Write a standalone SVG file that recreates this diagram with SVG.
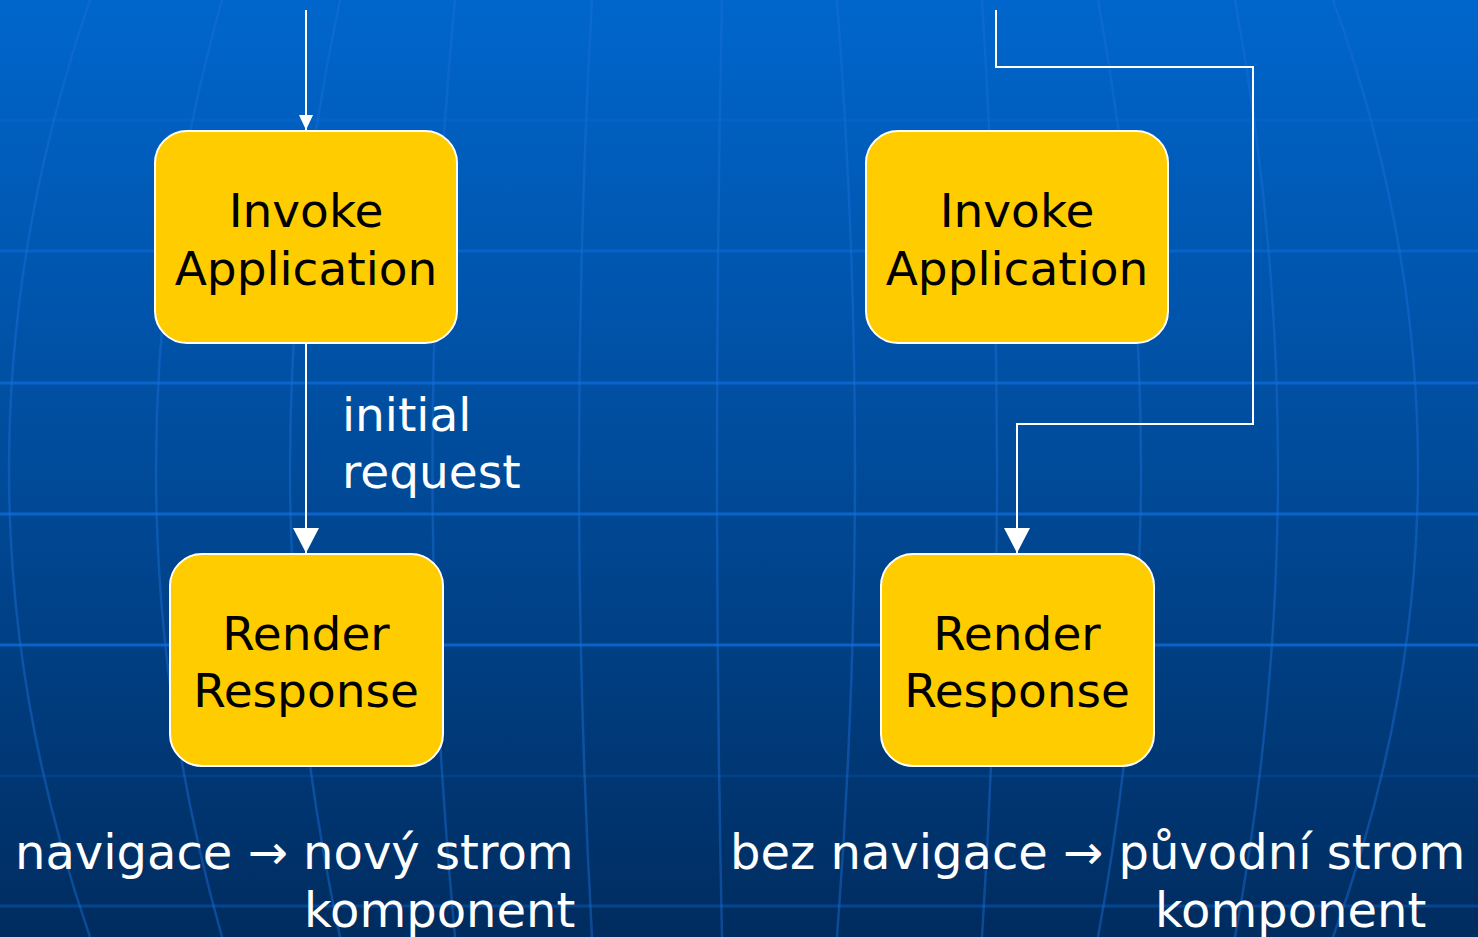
<svg xmlns="http://www.w3.org/2000/svg" width="1478" height="937" viewBox="0 0 1478 937">
  <defs>
    <linearGradient id="bg" x1="0" y1="0" x2="0" y2="1">
      <stop offset="0" stop-color="#0066cc"/>
      <stop offset="0.5" stop-color="#004b9a"/>
      <stop offset="1" stop-color="#002c5f"/>
    </linearGradient>
    <marker id="headSmall" markerUnits="userSpaceOnUse" viewBox="0 0 15 14" refX="15" refY="7" markerWidth="15" markerHeight="14" orient="auto">
      <path d="M0,0 L15,7 L0,14 Z" fill="#ffffff"/>
    </marker>
    <marker id="headBig" markerUnits="userSpaceOnUse" viewBox="0 0 25 26" refX="25" refY="13" markerWidth="25" markerHeight="26" orient="auto">
      <path d="M0,0 L25,13 L0,26 Z" fill="#ffffff"/>
    </marker>
  </defs>
  <style>
    .grid-h { stroke: #0b6ad6; stroke-width: 3; fill: none; }
    .grid-v { stroke: #1a6fd8; stroke-width: 2.5; fill: none; opacity: 0.45; }
    .box { fill: #ffcc00; stroke: #ffffff; stroke-width: 2; }
    .node-text { font-family: "DejaVu Sans", Verdana, sans-serif; font-size: 47px; fill: #000000; text-anchor: middle; }
    .wire { stroke: #ffffff; stroke-width: 2; fill: none; }
    .label { font-family: "DejaVu Sans", Verdana, sans-serif; font-size: 47px; fill: #ffffff; }
    .caption { font-family: "DejaVu Sans", Verdana, sans-serif; font-size: 48px; fill: #ffffff; }
  </style>

  <!-- backdrop: blue gradient with a faint globe grid -->
  <g id="background">
    <rect x="0" y="0" width="1478" height="937" fill="url(#bg)"/>
    <line class="grid-h" x1="0" y1="120" x2="1478" y2="120" opacity="0.35"/>
    <line class="grid-h" x1="0" y1="251" x2="1478" y2="251" opacity="0.6"/>
    <line class="grid-h" x1="0" y1="383" x2="1478" y2="383" opacity="0.8"/>
    <line class="grid-h" x1="0" y1="514" x2="1478" y2="514" opacity="0.85"/>
    <line class="grid-h" x1="0" y1="645" x2="1478" y2="645" opacity="0.85"/>
    <line class="grid-h" x1="0" y1="776" x2="1478" y2="776" opacity="0.2"/>
    <line class="grid-h" x1="0" y1="906" x2="1478" y2="906" opacity="0.4"/>
    <path class="grid-v" d="M90,0 Q-72,470 90,937"/>
    <path class="grid-v" d="M222,0 Q90,470 222,937"/>
    <path class="grid-v" d="M340,0 Q240,470 340,937"/>
    <path class="grid-v" d="M455,0 Q410,470 455,937"/>
    <path class="grid-v" d="M592,0 Q566,470 592,937"/>
    <path class="grid-v" d="M722,0 Q712,470 722,937"/>
    <path class="grid-v" d="M837,0 Q873,470 837,937"/>
    <path class="grid-v" d="M982,0 Q1012,470 982,937"/>
    <path class="grid-v" d="M1098,0 Q1184,470 1098,937"/>
    <path class="grid-v" d="M1235,0 Q1321,470 1235,937"/>
    <path class="grid-v" d="M1333,0 Q1503,470 1333,937"/>
  </g>

  <!-- connectors -->
  <g id="connectors">
    <path class="wire" d="M306,10 L306,130" marker-end="url(#headSmall)"/>
    <path class="wire" d="M306,343 L306,553" marker-end="url(#headBig)"/>
    <path class="wire" d="M996,10 L996,67 L1253,67 L1253,424 L1017,424 L1017,553" marker-end="url(#headBig)"/>
  </g>

  <g id="invoke-left">
    <rect class="box" x="155" y="131" width="302" height="212" rx="32" ry="32"/>
    <text class="node-text" x="306" y="227">Invoke</text>
    <text class="node-text" x="306" y="285">Application</text>
  </g>
  <g id="render-left">
    <rect class="box" x="170" y="554" width="273" height="212" rx="32" ry="32"/>
    <text class="node-text" x="306" y="650">Render</text>
    <text class="node-text" x="306" y="707">Response</text>
  </g>
  <g id="invoke-right">
    <rect class="box" x="866" y="131" width="302" height="212" rx="32" ry="32"/>
    <text class="node-text" x="1017" y="227">Invoke</text>
    <text class="node-text" x="1017" y="285">Application</text>
  </g>
  <g id="render-right">
    <rect class="box" x="881" y="554" width="273" height="212" rx="32" ry="32"/>
    <text class="node-text" x="1017" y="650">Render</text>
    <text class="node-text" x="1017" y="707">Response</text>
  </g>

  <g id="edge-label">
    <text class="label" x="342" y="431">initial</text>
    <text class="label" x="342" y="488">request</text>
  </g>

  <g id="captions">
    <text class="caption" x="15" y="869">navigace → nový strom</text>
    <text class="caption" x="304" y="927">komponent</text>
    <text class="caption" x="730" y="869">bez navigace → původní strom</text>
    <text class="caption" x="1155" y="927">komponent</text>
  </g>
</svg>
